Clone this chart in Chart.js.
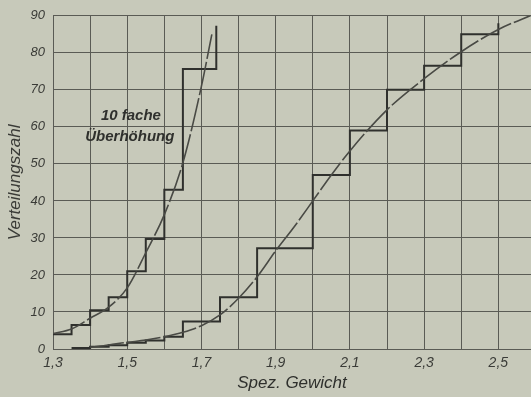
<!DOCTYPE html>
<html>
<head>
<meta charset="utf-8">
<script src="https://cdn.jsdelivr.net/npm/chart.js@4.4.0/dist/chart.umd.min.js"></script>
<style>
  html, body { margin: 0; padding: 0; background: #c7c9ba; }
  canvas { display: block; }
</style>
</head>
<body>
<canvas id="c" width="531" height="397"></canvas>
<script>
// Stepped distribution, 10-fold exaggerated (left)
const stepAEdges  = [1.30, 1.35, 1.40, 1.45, 1.50, 1.55, 1.60, 1.65, 1.74];
const stepAValues = [4.0, 6.5, 10.5, 14.0, 21.0, 29.7, 43.0, 75.6, 87.3];
// Stepped distribution, actual (right)
const stepBEdges  = [1.35, 1.40, 1.45, 1.50, 1.55, 1.60, 1.65, 1.75, 1.85, 2.00, 2.10, 2.20, 2.30, 2.40, 2.50];
const stepBValues = [0.3, 0.6, 1.0, 1.7, 2.3, 3.3, 7.4, 14.0, 27.2, 47.0, 59.0, 70.0, 76.5, 85.0, 88.0];
// Smooth curves
const curveAX = [1.30, 1.35, 1.40, 1.45, 1.50, 1.55, 1.60, 1.65, 1.70, 1.728];
const curveAY = [4.2, 5.4, 8.3, 11.3, 16.5, 26.0, 36.3, 50.3, 71.0, 85.0];
const curveBX = [1.40, 1.45, 1.50, 1.55, 1.60, 1.65, 1.70, 1.75, 1.80, 1.85, 1.90, 1.95, 2.00, 2.05, 2.10, 2.20, 2.30, 2.40, 2.50, 2.595];
const curveBY = [0.5, 1.1, 1.8, 2.4, 3.3, 4.5, 6.3, 9.2, 13.7, 19.5, 26.5, 33.0, 40.0, 47.0, 53.5, 64.6, 73.0, 80.3, 86.3, 90.4];
// Axes
const xGridValues  = [1.3, 1.4, 1.5, 1.6, 1.7, 1.8, 1.9, 2.0, 2.1, 2.2, 2.3, 2.4, 2.5];
const xLabelValues = [1.3, 1.5, 1.7, 1.9, 2.1, 2.3, 2.5];
const yTicks = [0, 10, 20, 30, 40, 50, 60, 70, 80, 90];
const xTitle = 'Spez. Gewicht';
const yTitle = 'Verteilungszahl';
const noteLines = ['10 fache', 'Überhöhung'];
const noteX = [1.51, 1.507];
const noteY = [63, 57.3];

const zip = (xs, ys) => xs.map((x, i) => ({x, y: ys[i]}));
const INK = '#2f302d';
const GRID = '#5a5b55';
const FONT = "'Liberation Sans Narrow', 'Liberation Sans', Arial, sans-serif";

const notePlugin = {
  id: 'note',
  afterDatasetsDraw(chart) {
    const {ctx, scales: {x, y}} = chart;
    ctx.save();
    ctx.fillStyle = INK;
    ctx.font = "italic bold 15px " + FONT;
    ctx.textAlign = 'center';
    ctx.textBaseline = 'middle';
    noteLines.forEach((t, i) => {
      ctx.fillText(t, x.getPixelForValue(noteX[i]), y.getPixelForValue(noteY[i]));
    });
    ctx.restore();
  }
};

new Chart(document.getElementById('c'), {
  type: 'scatter',
  data: {
    datasets: [
      { data: zip(curveAX, curveAY), showLine: true, borderColor: '#494a45', borderWidth: 1.6,
        pointRadius: 0, cubicInterpolationMode: 'monotone', borderDash: [34, 3] },
      { data: zip(curveBX, curveBY), showLine: true, borderColor: '#494a45', borderWidth: 1.6,
        pointRadius: 0, cubicInterpolationMode: 'monotone', borderDash: [34, 3] },
      { data: zip(stepAEdges, stepAValues), showLine: true, stepped: true, borderColor: INK,
        borderWidth: 2, pointRadius: 0 },
      { data: zip(stepBEdges, stepBValues), showLine: true, stepped: true, borderColor: INK,
        borderWidth: 2, pointRadius: 0 }
    ]
  },
  options: {
    responsive: false,
    devicePixelRatio: 1,
    animation: false,
    layout: { padding: { top: 15, right: 0, left: 0, bottom: 0 } },
    plugins: { legend: { display: false }, tooltip: { enabled: false } },
    scales: {
      x: {
        type: 'linear', min: 1.3, max: 2.588,
        afterBuildTicks: s => { s.ticks = xGridValues.map(v => ({value: v})); },
        afterFit: s => { s.height = 48; },
        grid: { color: GRID, lineWidth: 1, drawTicks: false },
        border: { color: GRID, width: 1 },
        ticks: {
          padding: 6, color: '#3a3b37', maxRotation: 0, autoSkip: false,
          font: { family: FONT, size: 14, style: 'italic' },
          callback: v => xLabelValues.some(l => Math.abs(l - v) < 1e-6) ? v.toFixed(1).replace('.', ',') : ''
        },
        title: { display: true, text: xTitle, color: INK,
          font: { family: FONT, size: 17, style: 'italic' }, padding: { top: 0, bottom: 4 } }
      },
      y: {
        type: 'linear', min: 0, max: 90,
        afterBuildTicks: s => { s.ticks = yTicks.map(v => ({value: v})); },
        afterFit: s => { s.width = 53; },
        grid: { color: GRID, lineWidth: 1, drawTicks: false },
        border: { color: GRID, width: 1 },
        ticks: {
          padding: 8, color: '#3a3b37',
          font: { family: FONT, size: 13, style: 'italic' }
        },
        title: { display: true, text: yTitle, color: '#3a3b37',
          font: { family: FONT, size: 17, style: 'italic' }, padding: { top: 5, bottom: 0 } }
      }
    }
  },
  plugins: [notePlugin]
});
</script>
</body>
</html>
